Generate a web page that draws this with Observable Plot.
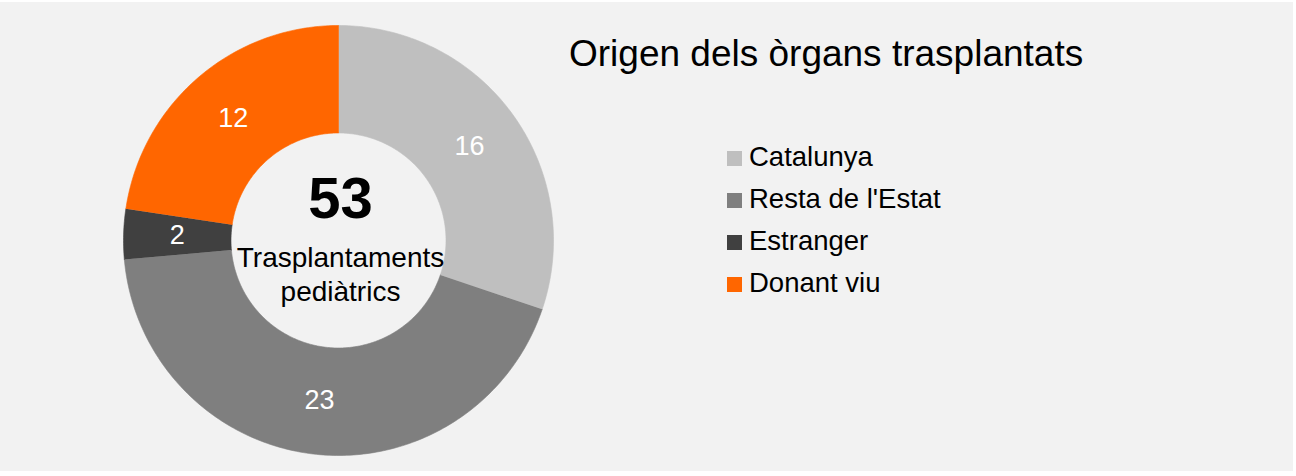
<!DOCTYPE html>
<html>
<head>
<meta charset="utf-8">
<script src="https://cdn.jsdelivr.net/npm/d3@7"></script>
<script src="https://cdn.jsdelivr.net/npm/@observablehq/plot@0.6"></script>
<style>
  html, body { margin: 0; padding: 0; background: #ffffff; }
  body { width: 1296px; height: 476px; position: relative; overflow: hidden; font-family: "Liberation Sans", Arial, sans-serif; }
  #panel { position: absolute; left: 0; top: 2px; width: 1293px; height: 469px; background: #f2f2f2; }
  #chart { position: absolute; left: 0; top: 0; }
  #title { position: absolute; left: 569px; top: 33px; font-size: 37px; line-height: 37px; color: #000; white-space: nowrap; }
  #legend { position: absolute; left: 727px; top: 141px; font-size: 27.5px; line-height: 27.5px; color: #000; }
  .row { height: 27.5px; margin-bottom: 14.5px; white-space: nowrap; }
  .sw { display: inline-block; width: 15px; height: 15px; margin-right: 7px; vertical-align: baseline; }
</style>
</head>
<body>
<div id="panel">
  <div id="chart"></div>
  <div id="title"></div>
  <div id="legend"></div>
</div>
<script>
// ---- data ----
const categories = ["Catalunya", "Resta de l'Estat", "Estranger", "Donant viu"];
const values = [16, 23, 2, 12];
const colors = ["#bfbfbf", "#7f7f7f", "#404040", "#ff6600"];
const centerLines = ["Trasplantaments", "pediàtrics"];
const titleText = "Origen dels òrgans trasplantats";

// ---- geometry (built from data) ----
const total = d3.sum(values);
const inner = 0.5, outer = 1, mid = 0.75;
let acc = 0;
const slices = categories.map((c, i) => {
  const a0 = acc / total * 2 * Math.PI;
  acc += values[i];
  const a1 = acc / total * 2 * Math.PI;
  const n = Math.max(4, Math.ceil((a1 - a0) / (2 * Math.PI) * 400));
  const pts = [];
  for (let k = 0; k <= n; k++) {
    const a = a0 + (a1 - a0) * k / n;
    pts.push({x: outer * Math.sin(a), y: outer * Math.cos(a)});
  }
  for (let k = n; k >= 0; k--) {
    const a = a0 + (a1 - a0) * k / n;
    pts.push({x: inner * Math.sin(a), y: inner * Math.cos(a)});
  }
  const am = (a0 + a1) / 2;
  return {category: c, value: values[i], color: colors[i], pts,
          lx: mid * Math.sin(am), ly: mid * Math.cos(am)};
});

const marks = slices.map(s => Plot.line(s.pts, {x: "x", y: "y", fill: s.color, stroke: s.color, strokeWidth: 0.6, curve: "linear"}));
marks.push(Plot.text(slices, {x: "lx", y: "ly", text: d => String(d.value), fill: "#ffffff", fontSize: 27, lineAnchor: "middle"}));
marks.push(Plot.text([total], {x: () => 0, y: () => 0, text: d => String(d), fontSize: 58, fontWeight: "bold", fill: "#000", lineAnchor: "bottom", dy: -23, dx: 2}));
marks.push(Plot.text([centerLines.join("\n")], {x: () => 0, y: () => 0, text: d => d, fontSize: 28, fill: "#000", lineAnchor: "top", lineHeight: 34/28, dy: 2, dx: 2}));

const chart = Plot.plot({
  width: 1293,
  height: 469,
  marginLeft: 123,
  marginRight: 740,
  marginTop: 23,
  marginBottom: 16,
  x: {domain: [-1, 1], axis: null},
  y: {domain: [-1, 1], axis: null},
  style: {background: "transparent", fontFamily: "'Liberation Sans', Arial, sans-serif", overflow: "visible"},
  marks
});
document.getElementById("chart").appendChild(chart);

document.getElementById("title").textContent = titleText;
const legend = document.getElementById("legend");
categories.forEach((c, i) => {
  const row = document.createElement("div");
  row.className = "row";
  const sw = document.createElement("span");
  sw.className = "sw";
  sw.style.background = colors[i];
  row.appendChild(sw);
  row.appendChild(document.createTextNode(c));
  legend.appendChild(row);
});
</script>
</body>
</html>
